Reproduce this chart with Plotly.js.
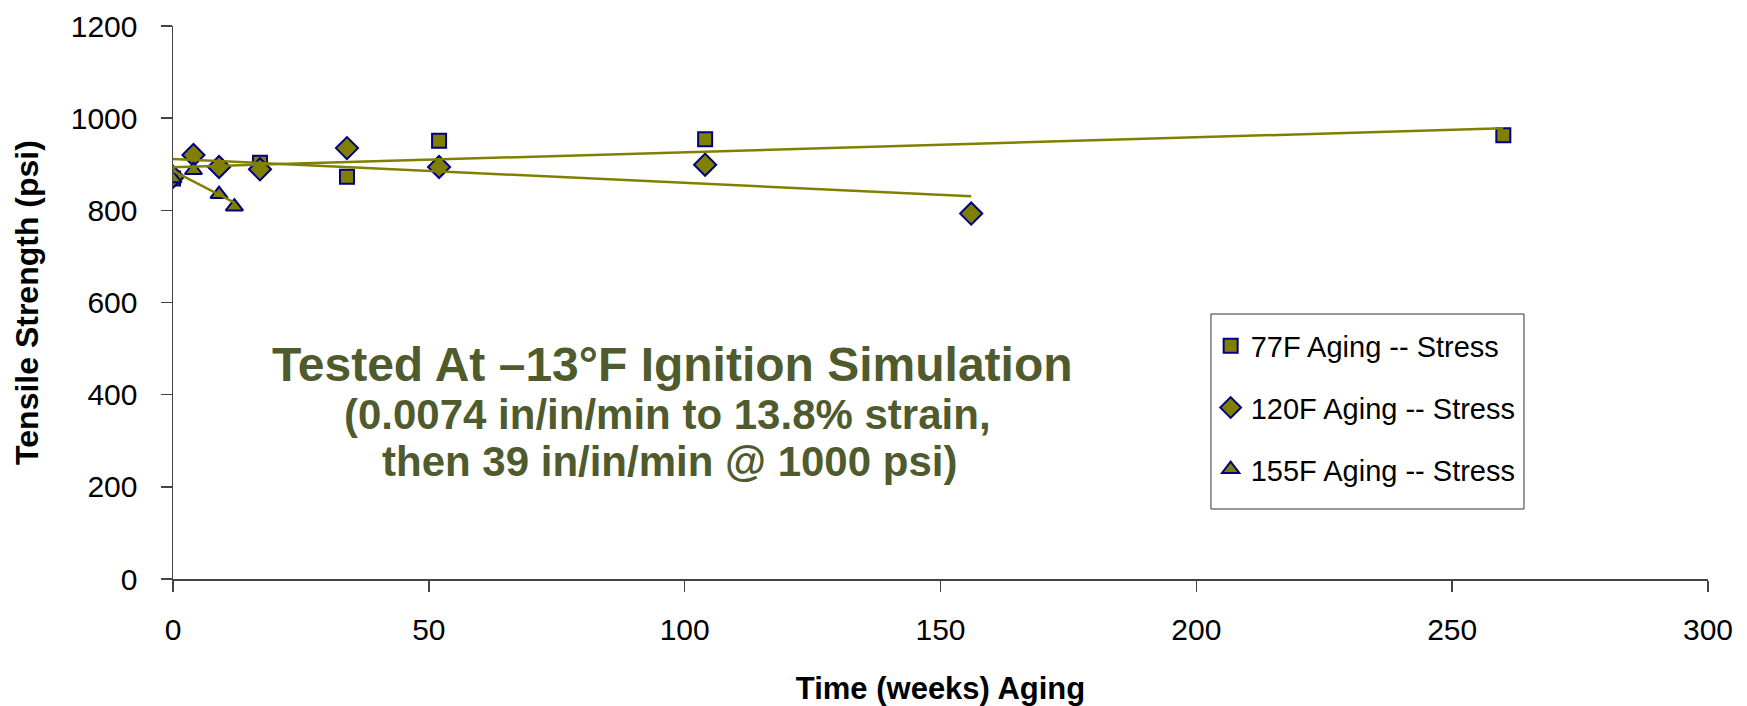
<!DOCTYPE html>
<html>
<head>
<meta charset="utf-8">
<script src="https://cdn.plot.ly/plotly-3.0.1.min.js"></script>
<style>
  html, body { margin: 0; padding: 0; background: #ffffff; }
  #chart { width: 1747px; height: 706px; }
</style>
</head>
<body>
<div id="chart"></div>
<script>
// Tensile strength after aging, per aging temperature
const weeks77 = [0, 17, 34, 52, 104, 260];
const stress77 = [869, 903, 873, 951, 954, 963];

const weeks120 = [0, 4, 9, 17, 34, 52, 104, 156];
const stress120 = [873, 920, 894, 889, 935, 894, 899, 793];

const weeks155 = [0, 4, 9, 12];
const stress155 = [869, 887, 835, 808];

const seriesNames = ['77F Aging -- Stress', '120F Aging -- Stress', '155F Aging -- Stress'];
const xTicks = [0, 50, 100, 150, 200, 250, 300];
const yTicks = [0, 200, 400, 600, 800, 1000, 1200];

const FONT = '"Liberation Sans", Arial, Helvetica, sans-serif';
const OLIVE = '#808000';
const NAVY = '#000080';
const NOTE = '#4f5b2d';

// least-squares straight line over one series, spanning its x range
function linearFit(xs, ys) {
  const n = xs.length;
  const mx = xs.reduce((a, b) => a + b, 0) / n;
  const my = ys.reduce((a, b) => a + b, 0) / n;
  let sxy = 0, sxx = 0;
  for (let i = 0; i < n; i++) {
    sxy += (xs[i] - mx) * (ys[i] - my);
    sxx += (xs[i] - mx) * (xs[i] - mx);
  }
  const slope = sxy / sxx;
  const icpt = my - slope * mx;
  const x0 = Math.min(...xs), x1 = Math.max(...xs);
  return { x: [x0, x1], y: [icpt + slope * x0, icpt + slope * x1] };
}

function markerTrace(xs, ys, name, symbol, size, group) {
  return {
    x: xs, y: ys, name: name, type: 'scatter', mode: 'markers',
    legendgroup: group,
    marker: { symbol: symbol, size: size, color: OLIVE, line: { color: NAVY, width: 2 } },
    hoverinfo: 'x+y+name'
  };
}

function fitTrace(xs, ys, group) {
  const f = linearFit(xs, ys);
  return {
    x: f.x, y: f.y, type: 'scatter', mode: 'lines', legendgroup: group,
    showlegend: false, hoverinfo: 'skip',
    line: { color: OLIVE, width: 2.5 }
  };
}

const data = [
  markerTrace(weeks77, stress77, seriesNames[0], 'square', 14, 'a'),
  markerTrace(weeks120, stress120, seriesNames[1], 'diamond', 17, 'b'),
  markerTrace(weeks155, stress155, seriesNames[2], 'triangle-up', 15, 'c'),
  fitTrace(weeks77, stress77, 'a'),
  fitTrace(weeks120, stress120, 'b'),
  fitTrace(weeks155, stress155, 'c')
];

const layout = {
  width: 1747, height: 706,
  paper_bgcolor: '#ffffff', plot_bgcolor: '#ffffff',
  margin: { l: 173, r: 39, t: 26, b: 127 },
  font: { family: FONT, color: '#000000', size: 30 },
  showlegend: true,
  legend: {
    x: 0.676, y: 0.4675, xanchor: 'left', yanchor: 'top',
    borderwidth: 0, bgcolor: 'rgba(0,0,0,0)',
    font: { family: FONT, size: 29, color: '#000000' },
    tracegroupgap: 21, traceorder: 'grouped'
  },
  // frame around the legend entries
  shapes: [{
    type: 'rect', xref: 'paper', yref: 'paper', layer: 'above',
    x0: 0.6762, x1: 0.8801, y0: 0.1266, y1: 0.4792,
    line: { color: '#333333', width: 1 }, fillcolor: 'rgba(0,0,0,0)'
  }],
  xaxis: {
    range: [0, 300], tickvals: xTicks, ticktext: xTicks.map(String),
    showgrid: false, zeroline: false,
    showline: true, linecolor: '#444444', linewidth: 1.5,
    ticks: 'outside', ticklen: 11, tickcolor: '#444444', tickwidth: 1.5,
    ticklabelstandoff: 12,
    tickfont: { family: FONT, size: 30, color: '#000000' },
    title: { text: 'Time (weeks) Aging', font: { family: FONT, size: 31, color: '#000000', weight: 'bold' }, standoff: 40 }
  },
  yaxis: {
    range: [0, 1200], tickvals: yTicks, ticktext: yTicks.map(String),
    showgrid: false, zeroline: false,
    showline: true, linecolor: '#444444', linewidth: 1.5,
    ticks: 'outside', ticklen: 11, tickcolor: '#444444', tickwidth: 1.5,
    ticklabelstandoff: 17,
    tickfont: { family: FONT, size: 30, color: '#000000' },
    title: { text: 'Tensile Strength (psi)', font: { family: FONT, size: 32, color: '#000000', weight: 'bold' }, standoff: 22 }
  },
  annotations: [
    {
      xref: 'paper', yref: 'paper',
      x: (672 - 173) / 1535, y: (579 - 364) / 553, xanchor: 'center', yanchor: 'middle',
      text: '<b>Tested At \u201313\u00b0F Ignition Simulation</b>', showarrow: false,
      font: { family: FONT, size: 48, color: NOTE }
    },
    {
      xref: 'paper', yref: 'paper',
      x: (667 - 173) / 1535, y: (579 - 414) / 553, xanchor: 'center', yanchor: 'middle',
      text: '<b>(0.0074 in/in/min to 13.8% strain,</b>', showarrow: false,
      font: { family: FONT, size: 42, color: NOTE }
    },
    {
      xref: 'paper', yref: 'paper',
      x: (669 - 173) / 1535, y: (579 - 461) / 553, xanchor: 'center', yanchor: 'middle',
      text: '<b>then 39 in/in/min @ 1000 psi)</b>', showarrow: false,
      font: { family: FONT, size: 42, color: NOTE }
    }
  ]
};

Plotly.newPlot('chart', data, layout, { displayModeBar: false, staticPlot: true });
</script>
</body>
</html>
